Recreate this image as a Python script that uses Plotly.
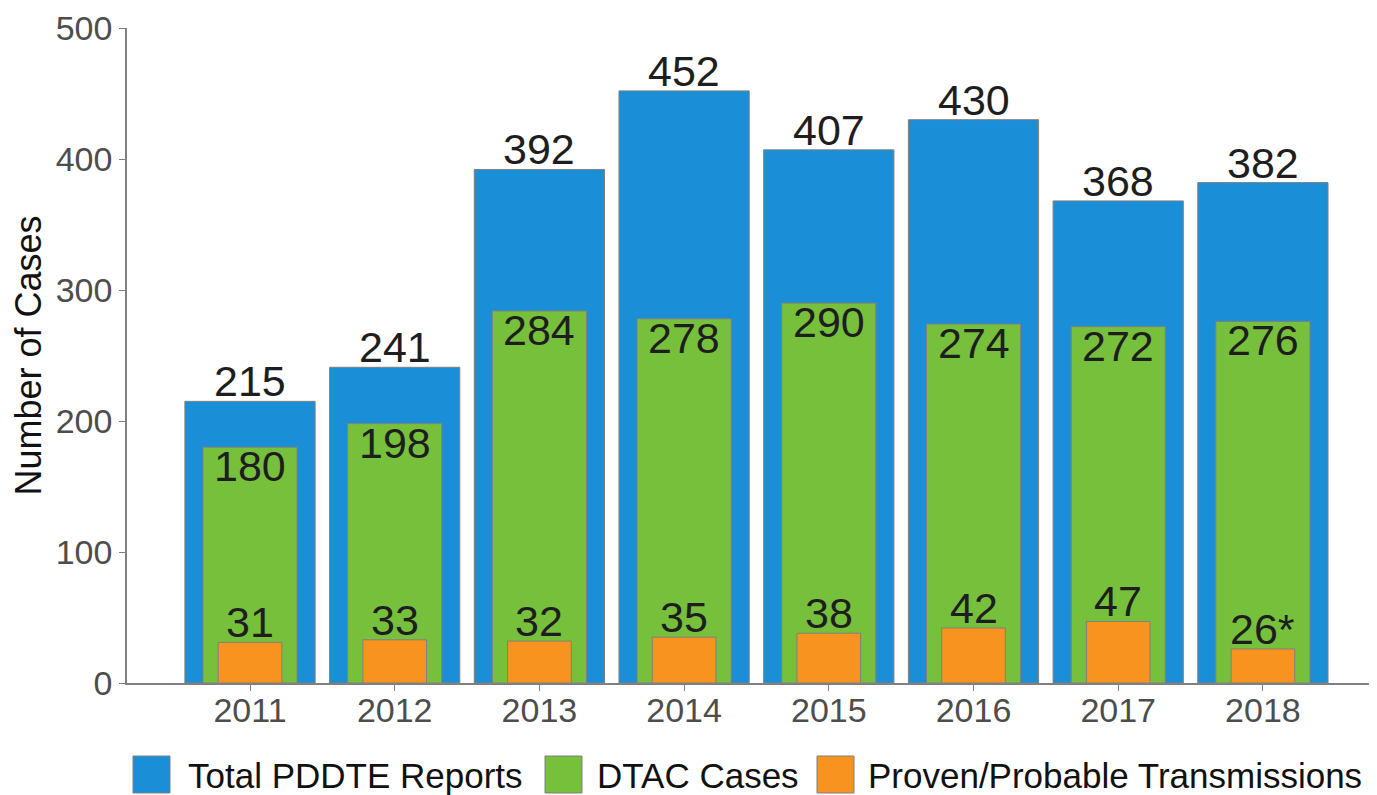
import plotly.graph_objects as go

years = ["2011", "2012", "2013", "2014", "2015", "2016", "2017", "2018"]
total_reports = [215, 241, 392, 452, 407, 430, 368, 382]
dtac_cases = [180, 198, 284, 278, 290, 274, 272, 276]
transmissions = [31, 33, 32, 35, 38, 42, 47, 26]
transmission_labels = ["31", "33", "32", "35", "38", "42", "47", "26*"]
y_ticks = [0, 100, 200, 300, 400, 500]
series_names = ["Total PDDTE Reports", "DTAC Cases", "Proven/Probable Transmissions"]
series_colors = ["#1a8fd7", "#76c03c", "#f7931e"]

FONT = "Arial, Liberation Sans, Helvetica, sans-serif"
LABEL_FONT = dict(family=FONT, size=43, color="#1e1e1e")
OUTLINE = dict(color="#808080", width=1)

# page has an 8px body margin, so figure pixel = screenshot pixel - 8
OFF = 8
W, H = 1377, 795
ML, MR, MT, MB = 127 - OFF, 2, 28 - OFF, H - (683 - OFF)
PW, PH = W - ML - MR, H - MT - MB


def px_to_paper_x(px):
    return (px - OFF - ML) / PW


def px_to_paper_y(py):
    return (H - MB - (py - OFF)) / PH


fig = go.Figure()
fig.add_trace(go.Bar(
    x=years, y=total_reports, name=series_names[0],
    marker=dict(color=series_colors[0], line=OUTLINE), width=0.9,
))
fig.add_trace(go.Bar(
    x=years, y=dtac_cases, name=series_names[1],
    marker=dict(color=series_colors[1], line=OUTLINE), width=0.65,
))
fig.add_trace(go.Bar(
    x=years, y=transmissions, name=series_names[2],
    marker=dict(color=series_colors[2], line=OUTLINE), width=0.44,
))

annotations = []
# value labels anchored on the data values (category index on the x axis)
for i, v in enumerate(total_reports):
    annotations.append(dict(x=i, y=v, xref="x", yref="y", text=str(v),
                            showarrow=False, yanchor="bottom", yshift=-6,
                            font=LABEL_FONT))
for i, v in enumerate(dtac_cases):
    annotations.append(dict(x=i, y=v, xref="x", yref="y", text=str(v),
                            showarrow=False, yanchor="top", yshift=7,
                            font=LABEL_FONT))
for i, (v, lab) in enumerate(zip(transmissions, transmission_labels)):
    annotations.append(dict(x=i, y=v, xref="x", yref="y", text=lab,
                            showarrow=False, yanchor="bottom", yshift=-6,
                            font=LABEL_FONT))

# manual legend with large swatches (screenshot pixel positions)
legend_square_left = [133, 545, 817]
legend_text_left = [188, 597, 868]
sq_top, sq_bot = 756, 793
shapes = []
for name, color, sx, tx in zip(series_names, series_colors, legend_square_left, legend_text_left):
    shapes.append(dict(
        type="rect", xref="paper", yref="paper",
        x0=px_to_paper_x(sx), x1=px_to_paper_x(sx + 37),
        y0=px_to_paper_y(sq_bot), y1=px_to_paper_y(sq_top),
        fillcolor=color, line=dict(color="#808080", width=1), layer="above",
    ))
    annotations.append(dict(
        text=name, xref="paper", yref="paper",
        x=px_to_paper_x(tx - 2), y=px_to_paper_y((sq_top + sq_bot) / 2 + 1),
        xanchor="left", yanchor="middle", showarrow=False,
        font=dict(family=FONT, size=35, color="#111111"),
    ))

fig.update_layout(
    barmode="overlay",
    width=W, height=H,
    margin=dict(l=ML, r=MR, t=MT, b=MB),
    paper_bgcolor="white", plot_bgcolor="white",
    font=dict(family=FONT, color="#4d4d4d"),
    showlegend=False,
    shapes=shapes,
    annotations=annotations,
)
fig.update_xaxes(
    type="category", range=[-0.85, 7.83], automargin=False,
    showline=True, linecolor="#808080", linewidth=1.5,
    ticks="outside", ticklen=6, tickcolor="#808080",
    tickfont=dict(family=FONT, size=34, color="#4d4d4d"),
    ticklabelstandoff=-10,
    showgrid=False, zeroline=False,
)
fig.update_yaxes(
    range=[0, 500], tickvals=y_ticks, automargin=False,
    showline=True, linecolor="#808080", linewidth=1.5,
    ticks="outside", ticklen=6, tickcolor="#808080",
    tickfont=dict(family=FONT, size=34, color="#4d4d4d"),
    ticklabeloverflow="allow",
    title=dict(text="Number of Cases", font=dict(family=FONT, size=36, color="#111111"), standoff=14),
    showgrid=False, zeroline=False,
)

fig.write_html("out.html")
